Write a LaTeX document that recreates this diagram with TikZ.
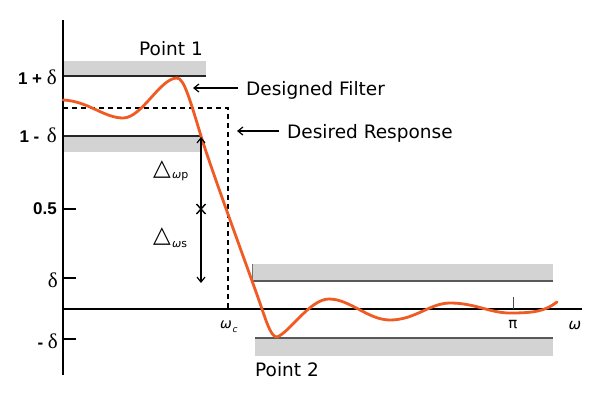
\documentclass[tikz,border=0pt]{standalone}
\usepackage{fontspec}
\setmainfont{DejaVu Sans}
\newfontfamily\lsans{Liberation Sans}
\newfontfamily\lserif{Liberation Serif}
\usetikzlibrary{arrows.meta,calc}
\definecolor{curveorange}{RGB}{240,90,35}
\definecolor{bandgray}{RGB}{211,211,211}
\newcommand{\dlt}{{\lserif\mdseries\fontsize{21bp}{24bp}\selectfont δ}}
\begin{document}
\begin{tikzpicture}[x=1bp,y=-1bp,
  lbl/.style={font=\fontsize{18.5bp}{22bp}\selectfont, inner sep=0pt, anchor=base west},
  ticklbl/.style={font=\fontsize{17bp}{19bp}\selectfont\lsans\bfseries, inner sep=0pt, anchor=base east},
  greek/.style={font=\fontsize{15bp}{18bp}\selectfont\itshape, inner sep=0pt},
  tri/.style={font=\fontsize{23bp}{24bp}\selectfont, inner sep=0pt},
  sub/.style={font=\fontsize{11bp}{13bp}\selectfont, inner sep=0pt, anchor=west},
  axis/.style={line width=2bp, black},
  bandline/.style={line width=1.5bp, black!85},
  arr/.style={line width=1.2bp, -{Straight Barb[length=5bp,width=8bp]}},
  darr/.style={line width=1.2bp, {Straight Barb[length=5bp,width=8bp]}-{Straight Barb[length=5bp,width=8bp]}},
  tickmark/.style={line width=1.5bp, black}]
\useasboundingbox (0,0) rectangle (600,400);
\fill[white] (0,0) rectangle (600,400);

% tolerance bands
\fill[bandgray] (63,61) rectangle (206,76);
\fill[bandgray] (63,136) rectangle (201,152);
\fill[bandgray] (252,264) rectangle (553,281);
\fill[bandgray] (255,338) rectangle (553,356);
\draw[bandline] (63,76) -- (206,76);
\draw[bandline] (63,136) -- (201,136);
\draw[line width=1.2bp, black!65] (252,281) -- (553,281);
\draw[line width=0.8bp, black!55] (252,264) -- (252,281);
\draw[line width=1.2bp, black!65] (255,338) -- (553,338);

% desired response
\draw[line width=1.5bp, dash pattern=on 5bp off 4bp] (63,108) -- (228,108) -- (228,309);

% axes
\draw[axis] (62.5,20) -- (62.5,375);
\draw[axis] (62.5,309) -- (582,309);
\draw[tickmark] (62.5,209) -- (76,209);
\draw[tickmark] (62.5,278) -- (76,278);
\draw[tickmark] (62.5,339) -- (76,339);
\draw[line width=0.8bp, black!70] (513,297) -- (513,309);

% designed filter curve
\draw[curveorange, line width=2.8bp, line join=round, line cap=round]
  (63,100) .. controls (88,101) and (104,118) .. (123,118)
  .. controls (142,118) and (160,78) .. (177,78)
  .. controls (184,78) and (190,100) .. (201,136)
  .. controls (212,172) and (255,288) .. (262,309)
  .. controls (268,327) and (272,337) .. (277,337)
  .. controls (290,332) and (310,299) .. (329,299)
  .. controls (350,299) and (368,320) .. (390,320)
  .. controls (415,320) and (430,303) .. (450,303)
  .. controls (475,303) and (490,313) .. (510,313)
  .. controls (535,313) and (545,311) .. (557,302);

% tick labels
\node[ticklbl] (l1p) at (57,84) {1 + \dlt};
\node[ticklbl] (l1m) at (57,142) {1 -\, \dlt};
\node[ticklbl] (l05) at (57,214) {0.5};
\node[ticklbl] (ld) at (58,287) {\dlt};
\node[ticklbl] (lmd) at (58,348) {- \dlt};

% axis labels
\node[greek, font=\fontsize{14bp}{16bp}\selectfont\itshape] (wc) at (226,325) {ω};
\node[greek, font=\fontsize{9bp}{11bp}\selectfont\itshape] (wcs) at (235,330) {c};
\node[font=\fontsize{15bp}{18bp}\selectfont, inner sep=0pt] (pi) at (513,325) {π};
\node[greek] (w) at (575,325) {ω};

% point labels
\node[lbl] (p1) at (139,55) {Point 1};
\node[lbl] (p2) at (255,376) {Point 2};

% designed filter / desired response labels
\node[lbl] (df) at (246,95) {Designed Filter};
\node[lbl] (dr) at (287,138) {Desired Response};
\coordinate (dfa) at (238,88);
\coordinate (dfb) at (193,88);
\coordinate (dra) at (279,131);
\coordinate (drb) at (237,131);
\draw[arr] (dfa) -- (dfb);
\draw[arr] (dra) -- (drb);

% transition band arrow
\coordinate (dtop) at (201,137);
\coordinate (dbot) at (201,283);
\draw[darr] (dtop) -- (dbot);
\coordinate (cx) at (201,209);
\draw[line width=1.4bp] ($(cx)+(-4.5,-5)$) -- ($(cx)+(4.5,5)$);
\draw[line width=1.4bp] ($(cx)+(-4.5,5)$) -- ($(cx)+(4.5,-5)$);

% delta labels
\node[tri] (dwp) at (162,170) {△};
\node[sub] (dwps) at (172,177) {\textit{ω}p};
\node[tri] (dws) at (162,237) {△};
\node[sub] (dwss) at (172,244) {\textit{ω}s};
\end{tikzpicture}
\end{document}
